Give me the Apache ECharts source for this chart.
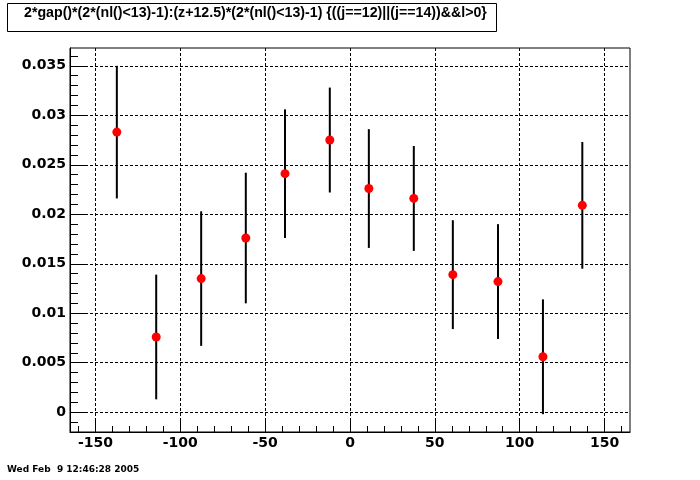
<!DOCTYPE html>
<html><head><meta charset="utf-8">
<script src="https://cdn.jsdelivr.net/npm/echarts@6/dist/echarts.min.js"></script>
<style>html,body{margin:0;padding:0;background:#fff}#c{width:700px;height:480px}</style>
</head><body><div id="c"></div>
<script>
const titleText = "2*gap()*(2*(nl()<13)-1):(z+12.5)*(2*(nl()<13)-1) {((j==12)||(j==14))&&l>0}";
const dateText = "Wed Feb  9 12:46:28 2005";
const xValues = [-137.4, -114.2, -87.7, -61.4, -38.3, -11.9, 11.1, 37.6, 60.6, 87.2, 113.7, 136.9];
const yValues = [0.0283, 0.0076, 0.0135, 0.0176, 0.0241, 0.0275, 0.0226, 0.0216, 0.0139, 0.0132, 0.0056, 0.0209];
const yErrors = [0.0067, 0.0063, 0.0068, 0.0066, 0.0065, 0.0053, 0.0060, 0.0053, 0.0055, 0.0058, 0.0058, 0.0064];
const xMajorTicks = [-150, -100, -50, 0, 50, 100, 150];
const xMinorTicks = [-160, -150, -140, -130, -120, -110, -100, -90, -80, -70, -60, -50, -40, -30, -20, -10, 0,
  10, 20, 30, 40, 50, 60, 70, 80, 90, 100, 110, 120, 130, 140, 150, 160];
const yMajorTicks = [0, 0.005, 0.01, 0.015, 0.02, 0.025, 0.03, 0.035];
const yMinorTicks = [-0.002, -0.001, 0, 0.001, 0.002, 0.003, 0.004, 0.005, 0.006, 0.007, 0.008, 0.009, 0.01,
  0.011, 0.012, 0.013, 0.014, 0.015, 0.016, 0.017, 0.018, 0.019, 0.02, 0.021, 0.022, 0.023, 0.024, 0.025,
  0.026, 0.027, 0.028, 0.029, 0.03, 0.031, 0.032, 0.033, 0.034, 0.035, 0.036];

const X_MIN = -165, X_MAX = 165, Y_MIN = -0.002, Y_MAX = 0.0368;
const labelFont = { color: '#000', fontFamily: 'DejaVu Sans', fontWeight: 'bold', fontSize: 14 };

const chart = echarts.init(document.getElementById('c'), null, { renderer: 'canvas' });
chart.setOption({
  animation: false,
  backgroundColor: '#fff',
  grid: { left: 70, right: 70, top: 48, bottom: 48, containLabel: false, outerBoundsMode: 'none',
    show: true, borderColor: '#000', borderWidth: 1, backgroundColor: '#fff' },
  xAxis: [
    { type: 'value', min: X_MIN, max: X_MAX, position: 'bottom',
      axisLine: { show: true, onZero: false, lineStyle: { color: '#000', width: 1 } },
      axisTick: { show: true, inside: true, length: 11, customValues: xMajorTicks, lineStyle: { color: '#000' } },
      axisLabel: Object.assign({ customValues: xMajorTicks, margin: 4 }, labelFont),
      splitLine: { show: true, lineStyle: { color: '#000', width: 1, type: [3, 2] } },
      minorTick: { show: false }, minorSplitLine: { show: false } },
    { type: 'value', min: X_MIN, max: X_MAX, position: 'bottom', offset: 0,
      axisLine: { show: false, onZero: false },
      axisTick: { show: true, inside: true, length: 6, customValues: xMinorTicks, lineStyle: { color: '#000' } },
      axisLabel: { show: false }, splitLine: { show: false } }
  ],
  yAxis: [
    { type: 'value', min: Y_MIN, max: Y_MAX, position: 'left',
      axisLine: { show: true, onZero: false, lineStyle: { color: '#000', width: 1 } },
      axisTick: { show: true, inside: true, length: 17, customValues: yMajorTicks, lineStyle: { color: '#000' } },
      axisLabel: Object.assign({ customValues: yMajorTicks, margin: 4 }, labelFont),
      splitLine: { show: true, lineStyle: { color: '#000', width: 1, type: [3, 2] } } },
    { type: 'value', min: Y_MIN, max: Y_MAX, position: 'left', offset: 0,
      axisLine: { show: false, onZero: false },
      axisTick: { show: true, inside: true, length: 8, customValues: yMinorTicks, lineStyle: { color: '#000' } },
      axisLabel: { show: false }, splitLine: { show: false } }
  ],
  series: [
    { type: 'custom', xAxisIndex: 0, yAxisIndex: 0, z: 3,
      data: xValues.map((x, i) => [x, yValues[i] - yErrors[i], yValues[i] + yErrors[i]]),
      encode: { x: 0, y: [1, 2] },
      renderItem: function (params, api) {
        const p1 = api.coord([api.value(0), api.value(1)]);
        const p2 = api.coord([api.value(0), api.value(2)]);
        return { type: 'line', shape: { x1: p1[0], y1: p1[1], x2: p2[0], y2: p2[1] },
          style: { stroke: '#000', lineWidth: 2 } };
      } },
    { type: 'scatter', xAxisIndex: 0, yAxisIndex: 0, z: 4,
      data: xValues.map((x, i) => [x, yValues[i]]),
      symbol: 'circle', symbolSize: 9, itemStyle: { color: '#ff0000', opacity: 1 } }
  ],
  graphic: [
    { type: 'rect', shape: { x: 7.5, y: 3.5, width: 489, height: 28 },
      style: { fill: '#fff', stroke: '#000', lineWidth: 1 } },
    { type: 'text', left: 24, top: 6, style: { text: titleText, font: 'bold 14.2px "Liberation Sans"', fill: '#000' } },
    { type: 'text', left: 7, top: 465, style: { text: dateText, font: 'bold 9px "DejaVu Sans"', fill: '#000' } }
  ]
});
</script></body></html>
